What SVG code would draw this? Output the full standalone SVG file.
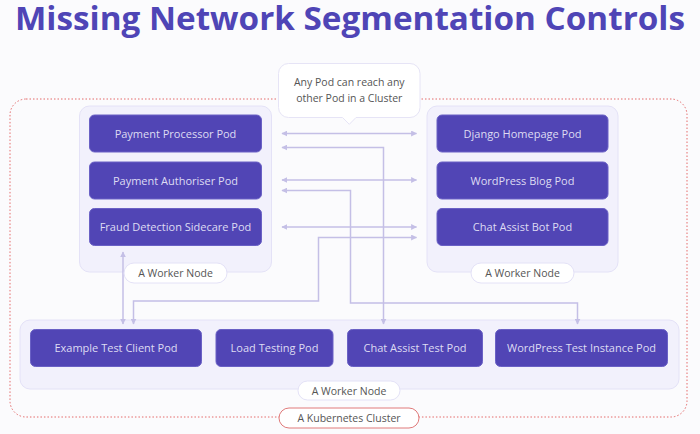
<svg xmlns="http://www.w3.org/2000/svg" width="700" height="434" viewBox="0 0 700 434">
<defs>
<style>
.title{font-family:"Open Sans","DejaVu Sans",sans-serif;font-weight:bold;font-size:32px;fill:#4f45b6}
.node{fill:#f2f1fc;stroke:#e4e2f7;stroke-width:1}
.pod{fill:#5145b5;stroke:#6a61c5;stroke-width:1}
.podt{font-family:"Open Sans","DejaVu Sans",sans-serif;font-size:11px;fill:#dedcf3;text-anchor:middle}
.pill{fill:#ffffff;stroke:#e4e2f7;stroke-width:1}
.lbl{font-family:"Open Sans","DejaVu Sans",sans-serif;font-size:10.5px;fill:#555555;text-anchor:middle}
.conn{fill:none;stroke:#c4bfe6;stroke-width:1.5;marker-start:url(#ah);marker-end:url(#ah)}
</style>
<marker id="ah" viewBox="0 0 10 10" refX="9" refY="5" markerWidth="6" markerHeight="6" markerUnits="userSpaceOnUse" orient="auto-start-reverse">
<path d="M0,0 L10,5 L0,10 z" fill="#c4bfe6"/>
</marker>
</defs>
<rect width="700" height="434" fill="#fbfbfd"/>
<text class="title" x="350" y="30" text-anchor="middle" textLength="670" lengthAdjust="spacingAndGlyphs">Missing Network Segmentation Controls</text>

<g id="cluster">
<rect x="10" y="99" width="677" height="318" rx="16" fill="none" stroke="#e46a6a" stroke-width="1" stroke-dasharray="1.5 2"/>
</g>

<g id="worker-left">
<rect class="node" x="79.5" y="106" width="192" height="166" rx="10"/>
</g>
<g id="worker-right">
<rect class="node" x="427" y="106" width="191" height="166" rx="10"/>
</g>
<g id="worker-bottom">
<rect class="node" x="20" y="320" width="659" height="69" rx="10"/>
</g>

<g id="callout">
<path d="M288.5,63.5 H410 a10,10 0 0 1 10,10 V107.5 a10,10 0 0 1 -10,10 H356 L349.3,124.3 L342.5,117.5 H288.5 a10,10 0 0 1 -10,-10 V73.5 a10,10 0 0 1 10,-10 z" fill="#ffffff" stroke="#e6e4f6" stroke-width="1"/>
<text class="lbl" x="349.3" y="85.5">Any Pod can reach any</text>
<text class="lbl" x="349.3" y="102">other Pod in a Cluster</text>
</g>

<g id="connectors">
<path class="conn" d="M282,133.5 H416.5"/>
<path class="conn" d="M282,147.5 H383.5 V324"/>
<path class="conn" d="M282,180 H416.5"/>
<path class="conn" d="M282,190.5 H350.5 V303 H577.5 V324"/>
<path class="conn" d="M282,227 H416.5"/>
<path class="conn" d="M416.5,237.5 H318.5 V301 H133.5 V324"/>
<path class="conn" d="M123,252 V324"/>
</g>

<g id="pod-payment-processor">
<rect class="pod" x="89.5" y="115" width="172" height="37" rx="5"/>
<text class="podt" x="175.5" y="137.5">Payment Processor Pod</text>
</g>
<g id="pod-payment-authoriser">
<rect class="pod" x="89.5" y="162" width="172" height="37" rx="5"/>
<text class="podt" x="175.5" y="184.5">Payment Authoriser Pod</text>
</g>
<g id="pod-fraud-detection">
<rect class="pod" x="89.5" y="208.5" width="172" height="37" rx="5"/>
<text class="podt" x="175.5" y="231">Fraud Detection Sidecare Pod</text>
</g>
<g id="pod-django">
<rect class="pod" x="437" y="115" width="171" height="37" rx="5"/>
<text class="podt" x="522.5" y="137.5">Django Homepage Pod</text>
</g>
<g id="pod-wordpress-blog">
<rect class="pod" x="437" y="162" width="171" height="37" rx="5"/>
<text class="podt" x="522.5" y="184.5">WordPress Blog Pod</text>
</g>
<g id="pod-chat-bot">
<rect class="pod" x="437" y="208.5" width="171" height="37" rx="5"/>
<text class="podt" x="522.5" y="231">Chat Assist Bot Pod</text>
</g>
<g id="pod-example-test-client">
<rect class="pod" x="30.5" y="329.5" width="171" height="37" rx="5"/>
<text class="podt" x="116" y="352">Example Test Client Pod</text>
</g>
<g id="pod-load-testing">
<rect class="pod" x="216" y="329.5" width="117" height="37" rx="5"/>
<text class="podt" x="274.5" y="352">Load Testing Pod</text>
</g>
<g id="pod-chat-assist-test">
<rect class="pod" x="347.5" y="329.5" width="135" height="37" rx="5"/>
<text class="podt" x="415" y="352">Chat Assist Test Pod</text>
</g>
<g id="pod-wordpress-test">
<rect class="pod" x="495.5" y="329.5" width="172" height="37" rx="5"/>
<text class="podt" x="581.5" y="352">WordPress Test Instance Pod</text>
</g>

<g id="label-worker-left">
<rect class="pill" x="124" y="263" width="103" height="20" rx="10"/>
<text class="lbl" x="175.5" y="277">A Worker Node</text>
</g>
<g id="label-worker-right">
<rect class="pill" x="471" y="263" width="103" height="20" rx="10"/>
<text class="lbl" x="522.5" y="277">A Worker Node</text>
</g>
<g id="label-worker-bottom">
<rect class="pill" x="298" y="381" width="102" height="19" rx="9.5"/>
<text class="lbl" x="349" y="394.5">A Worker Node</text>
</g>
<g id="label-cluster">
<rect x="279" y="408" width="140" height="20" rx="10" fill="#ffffff" stroke="#e07a7a" stroke-width="1"/>
<text class="lbl" x="349" y="422">A Kubernetes Cluster</text>
</g>
</svg>
